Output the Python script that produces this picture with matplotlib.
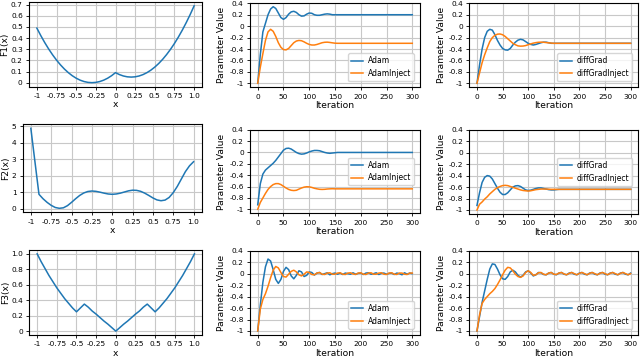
import matplotlib
matplotlib.use("Agg")
import matplotlib.pyplot as plt

# ---------------- data ----------------
func_x = [-1.0, -0.95, -0.9, -0.85, -0.8, -0.75, -0.7, -0.65, -0.6, -0.55, -0.5,
          -0.45, -0.4, -0.35, -0.3, -0.25, -0.2, -0.15, -0.1, -0.05, 0.0,
          0.05, 0.1, 0.15, 0.2, 0.25, 0.3, 0.35, 0.4, 0.45, 0.5,
          0.55, 0.6, 0.65, 0.7, 0.75, 0.8, 0.85, 0.9, 0.95, 1.0]

f1_y = [0.49, 0.4225, 0.36, 0.3025, 0.25, 0.2025, 0.16, 0.1225, 0.09, 0.0625, 0.04,
        0.0225, 0.01, 0.0025, 0.0, 0.0025, 0.01, 0.0225, 0.04, 0.0625, 0.09,
        0.0725, 0.06, 0.0525, 0.05, 0.0525, 0.06, 0.0725, 0.09, 0.1125, 0.14,
        0.1725, 0.21, 0.2525, 0.30, 0.3525, 0.41, 0.4725, 0.54, 0.6125, 0.69]

f2_y = [4.88, 2.87, 0.87, 0.60, 0.38, 0.20, 0.07, 0.02, 0.05, 0.18, 0.38,
        0.60, 0.80, 0.95, 1.04, 1.07, 1.05, 1.00, 0.94, 0.89, 0.87,
        0.89, 0.94, 1.01, 1.08, 1.12, 1.11, 1.05, 0.94, 0.80, 0.65,
        0.53, 0.48, 0.52, 0.68, 0.97, 1.35, 1.80, 2.25, 2.60, 2.85]

f3_y = [1.0, 0.90, 0.81, 0.72, 0.64, 0.56, 0.49, 0.42, 0.36, 0.30, 0.25,
        0.30, 0.35, 0.31, 0.26, 0.22, 0.175, 0.13, 0.09, 0.045, 0.0,
        0.045, 0.09, 0.13, 0.175, 0.22, 0.26, 0.31, 0.35, 0.30, 0.25,
        0.30, 0.36, 0.42, 0.49, 0.56, 0.64, 0.72, 0.81, 0.90, 1.0]

func_xticks = [-1, -0.75, -0.5, -0.25, 0, 0.25, 0.5, 0.75, 1.0]
func_xticklabels = ["-1", "-0.75", "-0.5", "-0.25", "0", "0.25", "0.5", "0.75", "1.0"]
f1_yticks = [0, 0.1, 0.2, 0.3, 0.4, 0.5, 0.6, 0.7]
f1_yticklabels = ["0", "0.1", "0.2", "0.3", "0.4", "0.5", "0.6", "0.7"]
f2_yticks = [0, 1, 2, 3, 4, 5]
f2_yticklabels = ["0", "1", "2", "3", "4", "5"]
f3_yticks = [0, 0.2, 0.4, 0.6, 0.8, 1.0]
f3_yticklabels = ["0", "0.2", "0.4", "0.6", "0.8", "1.0"]

iterations = list(range(0, 301, 5))
iter_ticks = [0, 50, 100, 150, 200, 250, 300]
param_yticks = [0.4, 0.2, 0, -0.2, -0.4, -0.6, -0.8, -1]
param_yticklabels = ["0.4", "0.2", "0", "-0.2", "-0.4", "-0.6", "-0.8", "-1"]

# Row 1 (F1)
r1_adam = [-1.0, -0.5, -0.1, 0.05, 0.2, 0.3, 0.34, 0.31, 0.23, 0.15, 0.12,
           0.15, 0.21, 0.25, 0.26, 0.24, 0.2, 0.175, 0.18, 0.21, 0.23,
           0.225, 0.2, 0.19, 0.19, 0.2, 0.21, 0.215, 0.21, 0.2, 0.2,
           0.2, 0.2, 0.2, 0.2, 0.2, 0.2, 0.2, 0.2, 0.2, 0.2,
           0.2, 0.2, 0.2, 0.2, 0.2, 0.2, 0.2, 0.2, 0.2, 0.2,
           0.2, 0.2, 0.2, 0.2, 0.2, 0.2, 0.2, 0.2, 0.2, 0.2]
r1_adaminj = [-1.0, -0.72, -0.48, -0.25, -0.1, -0.055, -0.09, -0.18, -0.29, -0.37, -0.41,
              -0.415, -0.39, -0.34, -0.29, -0.26, -0.25, -0.255, -0.275, -0.3, -0.32,
              -0.33, -0.33, -0.32, -0.305, -0.29, -0.282, -0.28, -0.285, -0.292, -0.298,
              -0.3, -0.3, -0.3, -0.3, -0.3, -0.3, -0.3, -0.3, -0.3, -0.3,
              -0.3, -0.3, -0.3, -0.3, -0.3, -0.3, -0.3, -0.3, -0.3, -0.3,
              -0.3, -0.3, -0.3, -0.3, -0.3, -0.3, -0.3, -0.3, -0.3, -0.3]
r1_diffgrad = [-1.0, -0.68, -0.4, -0.2, -0.09, -0.055, -0.07, -0.15, -0.25, -0.33, -0.39,
               -0.415, -0.42, -0.39, -0.33, -0.28, -0.245, -0.23, -0.24, -0.27, -0.3,
               -0.32, -0.33, -0.32, -0.305, -0.29, -0.28, -0.28, -0.29, -0.3, -0.3,
               -0.3, -0.3, -0.3, -0.3, -0.3, -0.3, -0.3, -0.3, -0.3, -0.3,
               -0.3, -0.3, -0.3, -0.3, -0.3, -0.3, -0.3, -0.3, -0.3, -0.3,
               -0.3, -0.3, -0.3, -0.3, -0.3, -0.3, -0.3, -0.3, -0.3, -0.3]
r1_diffgradinj = [-1.0, -0.82, -0.64, -0.5, -0.38, -0.27, -0.2, -0.16, -0.14, -0.137, -0.15,
                  -0.18, -0.22, -0.26, -0.3, -0.325, -0.345, -0.35, -0.348, -0.34, -0.325,
                  -0.31, -0.297, -0.288, -0.282, -0.28, -0.282, -0.287, -0.292, -0.296, -0.3,
                  -0.3, -0.3, -0.3, -0.3, -0.3, -0.3, -0.3, -0.3, -0.3, -0.3,
                  -0.3, -0.3, -0.3, -0.3, -0.3, -0.3, -0.3, -0.3, -0.3, -0.3,
                  -0.3, -0.3, -0.3, -0.3, -0.3, -0.3, -0.3, -0.3, -0.3, -0.3]

# Row 2 (F2)
r2_adam = [-0.92, -0.55, -0.38, -0.31, -0.27, -0.23, -0.19, -0.14, -0.08, -0.02, 0.04,
           0.07, 0.075, 0.06, 0.03, 0.0, -0.02, -0.03, -0.025, -0.01, 0.01,
           0.025, 0.035, 0.035, 0.03, 0.015, 0.0, -0.01, -0.015, -0.01, -0.005,
           0.0, 0.0, 0.0, 0.0, 0.0, 0.0, 0.0, 0.0, 0.0, 0.0,
           0.0, 0.0, 0.0, 0.0, 0.0, 0.0, 0.0, 0.0, 0.0, 0.0,
           0.0, 0.0, 0.0, 0.0, 0.0, 0.0, 0.0, 0.0, 0.0, 0.0]
r2_adaminj = [-1.0, -0.88, -0.8, -0.72, -0.65, -0.6, -0.565, -0.548, -0.548, -0.565, -0.595,
              -0.625, -0.65, -0.665, -0.67, -0.665, -0.645, -0.625, -0.61, -0.603, -0.605,
              -0.615, -0.63, -0.64, -0.648, -0.65, -0.648, -0.643, -0.64, -0.638, -0.64,
              -0.64, -0.64, -0.64, -0.64, -0.64, -0.64, -0.64, -0.64, -0.64, -0.64,
              -0.64, -0.64, -0.64, -0.64, -0.64, -0.64, -0.64, -0.64, -0.64, -0.64,
              -0.64, -0.64, -0.64, -0.64, -0.64, -0.64, -0.64, -0.64, -0.64, -0.64]
r2_diffgrad = [-0.92, -0.7, -0.52, -0.43, -0.40, -0.41, -0.46, -0.54, -0.62, -0.69, -0.73,
               -0.73, -0.7, -0.65, -0.6, -0.58, -0.575, -0.59, -0.62, -0.65, -0.66,
               -0.655, -0.64, -0.625, -0.615, -0.615, -0.625, -0.635, -0.645, -0.65, -0.65,
               -0.645, -0.64, -0.64, -0.64, -0.64, -0.64, -0.64, -0.64, -0.64, -0.64,
               -0.64, -0.64, -0.64, -0.64, -0.64, -0.64, -0.64, -0.64, -0.64, -0.64,
               -0.64, -0.64, -0.64, -0.64, -0.64, -0.64, -0.64, -0.64, -0.64, -0.64]
r2_diffgradinj = [-1.0, -0.9, -0.86, -0.81, -0.77, -0.72, -0.68, -0.64, -0.61, -0.59, -0.575,
                  -0.57, -0.575, -0.59, -0.605, -0.62, -0.635, -0.65, -0.66, -0.665, -0.67,
                  -0.665, -0.655, -0.645, -0.64, -0.635, -0.635, -0.635, -0.638, -0.64, -0.64,
                  -0.64, -0.64, -0.64, -0.64, -0.64, -0.64, -0.64, -0.64, -0.64, -0.64,
                  -0.64, -0.64, -0.64, -0.64, -0.64, -0.64, -0.64, -0.64, -0.64, -0.64,
                  -0.64, -0.64, -0.64, -0.64, -0.64, -0.64, -0.64, -0.64, -0.64, -0.64]

# Row 3 (F3)
r3_adam = [-1.0, -0.55, -0.15, 0.12, 0.255, 0.22, 0.07, -0.1, -0.17, -0.1, 0.04,
           0.11, 0.07, -0.04, -0.09, -0.03, 0.05, 0.03, -0.05, -0.03, 0.03,
           0.02, -0.025, 0.01, 0.02, -0.015, 0.0, 0.015, -0.02, 0.0, 0.01,
           -0.01, 0.01, -0.015, 0.01, 0.0, -0.01, 0.015, -0.01, 0.005, 0.01,
           -0.015, 0.01, 0.015, -0.01, 0.0, 0.015, -0.015, 0.005, 0.01, -0.01,
           0.005, 0.01, -0.015, 0.01, 0.0, -0.02, 0.015, -0.01, 0.01, 0.0]
r3_adaminj = [-1.0, -0.62, -0.45, -0.35, -0.22, -0.07, 0.06, 0.125, 0.1, 0.02, -0.05,
              -0.06, -0.01, 0.04, 0.06, 0.03, -0.02, -0.04, -0.01, 0.03, 0.02,
              -0.015, -0.02, 0.01, 0.02, -0.01, -0.015, 0.01, 0.015, -0.01, -0.01,
              0.01, 0.015, -0.01, -0.015, 0.01, 0.015, -0.005, -0.015, 0.01, 0.015,
              -0.01, -0.015, 0.01, 0.015, -0.01, -0.01, 0.01, 0.015, -0.01, -0.015,
              0.01, 0.015, -0.01, -0.015, 0.01, 0.01, -0.01, -0.015, 0.01, 0.01]
r3_diffgrad = [-1.0, -0.75, -0.5, -0.3, -0.1, 0.08, 0.17, 0.16, 0.08, -0.02, -0.09,
               -0.1, -0.05, 0.03, 0.06, 0.03, -0.03, -0.06, -0.03, 0.03, 0.05,
               0.01, -0.04, -0.02, 0.02, 0.015, -0.015, -0.02, 0.01, 0.02, -0.01,
               -0.02, 0.01, 0.02, -0.01, -0.02, 0.01, 0.02, -0.01, -0.02, 0.01,
               0.02, -0.01, -0.02, 0.01, 0.02, -0.01, -0.02, 0.01, 0.02, -0.01,
               -0.02, 0.01, 0.02, -0.01, -0.02, 0.01, 0.02, -0.01, -0.02, 0.01]
r3_diffgradinj = [-1.0, -0.72, -0.52, -0.45, -0.4, -0.35, -0.31, -0.26, -0.19, -0.11, -0.02,
                  0.06, 0.11, 0.1, 0.05, -0.01, -0.05, -0.065, -0.04, 0.02, 0.05,
                  0.02, -0.03, -0.02, 0.015, 0.02, -0.01, -0.02, 0.01, 0.02, -0.01,
                  -0.015, 0.01, 0.02, -0.005, -0.02, 0.005, 0.02, 0.0, -0.02, 0.005,
                  0.02, 0.0, -0.02, 0.005, 0.02, 0.0, -0.02, 0.005, 0.02, 0.0,
                  -0.02, 0.005, 0.02, 0.0, -0.02, 0.005, 0.02, 0.0, -0.02, 0.0]

# ---------------- drawing ----------------
W, H = 640, 359
fig = plt.figure(figsize=(6.4, 3.59), dpi=100)

BLUE = "#1f77b4"
ORANGE = "#ff7f0e"
TICK = 5.3
LAB = 6.6
LEG = 5.5


def box(l, r, t, b):
    return [l / W, 1 - b / H, (r - l) / W, (b - t) / H]


def style(ax):
    ax.grid(True, color="#c8c8c8", linewidth=0.8)
    ax.set_axisbelow(True)
    ax.tick_params(labelsize=TICK, length=2.5, width=0.6, pad=2)
    for s in ax.spines.values():
        s.set_linewidth(0.8)


def func_panel(pos, y, yticks, yticklabels, ylabel):
    ax = fig.add_axes(box(*pos))
    ax.plot(func_x, y, color=BLUE, linewidth=1.1)
    ax.set_xticks(func_xticks)
    ax.set_xticklabels(func_xticklabels)
    ax.set_yticks(yticks)
    ax.set_yticklabels(yticklabels)
    ax.set_xlim(-1.1, 1.1)
    ax.set_xlabel("x", fontsize=LAB, labelpad=1)
    ax.set_ylabel(ylabel, fontsize=LAB, labelpad=1)
    style(ax)
    return ax


def param_panel(pos, a, b, names, loc):
    ax = fig.add_axes(box(*pos))
    ax.plot(iterations, a, color=BLUE, linewidth=1.1, label=names[0])
    ax.plot(iterations, b, color=ORANGE, linewidth=1.1, label=names[1])
    ax.set_xticks(iter_ticks)
    ax.set_yticks(param_yticks)
    ax.set_yticklabels(param_yticklabels)
    ax.set_xlim(-15, 315)
    ax.set_ylim(-1.07, 0.4)
    ax.set_xlabel("Iteration", fontsize=LAB, labelpad=1)
    ax.set_ylabel("Parameter Value", fontsize=LAB, labelpad=2)
    style(ax)
    ax.legend(loc=loc, fontsize=LEG, borderaxespad=0.8, handlelength=1.5,
              handletextpad=0.6)
    return ax


func_panel((29, 202, 2, 86.5), f1_y, f1_yticks, f1_yticklabels, "F1(x)")
func_panel((22.7, 201.7, 124.3, 212.3), f2_y, f2_yticks, f2_yticklabels, "F2(x)")
func_panel((29.3, 202.3, 250, 335), f3_y, f3_yticks, f3_yticklabels, "F3(x)")

param_panel((250, 420, 3.3, 87.3), r1_adam, r1_adaminj, ["Adam", "AdamInject"], "lower right")
param_panel((469.3, 638.3, 3.3, 87.3), r1_diffgrad, r1_diffgradinj, ["diffGrad", "diffGradInject"], "lower right")
param_panel((250, 420, 129.7, 213.3), r2_adam, r2_adaminj, ["Adam", "AdamInject"], "center right")
param_panel((469.3, 638.3, 129.7, 214), r2_diffgrad, r2_diffgradinj, ["diffGrad", "diffGradInject"], "center right")
param_panel((250, 420, 250.7, 335), r3_adam, r3_adaminj, ["Adam", "AdamInject"], "lower right")
param_panel((469.3, 638.3, 250.7, 335), r3_diffgrad, r3_diffgradinj, ["diffGrad", "diffGradInject"], "lower right")

fig.savefig("out.png", dpi=100)
